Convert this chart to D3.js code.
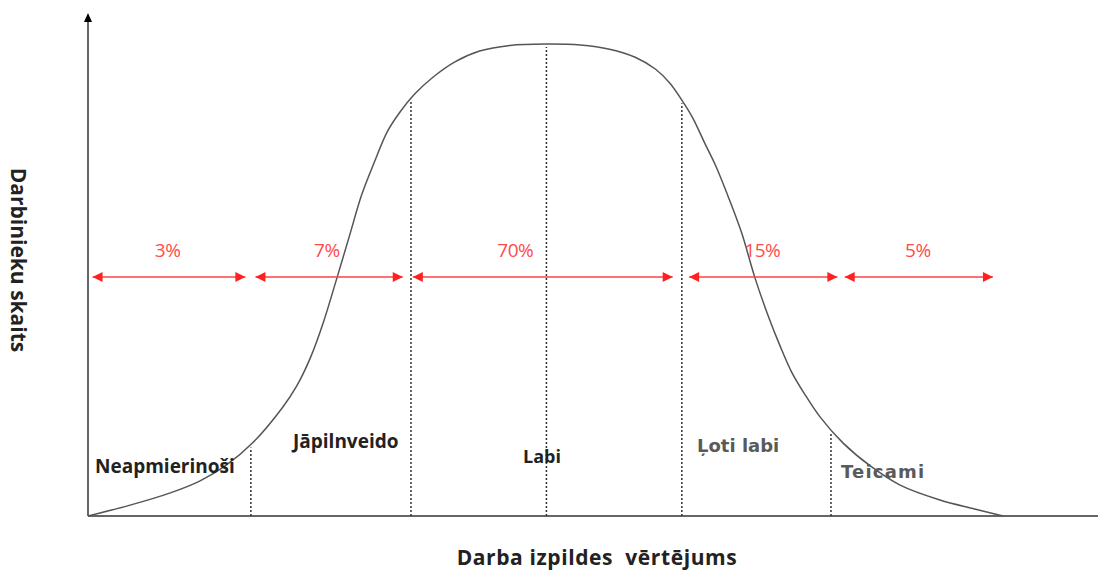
<!DOCTYPE html>
<html>
<head>
<meta charset="utf-8">
<script src="https://cdn.jsdelivr.net/npm/d3@7"></script>
<style>
  body { margin: 0; background: #fff; }
  svg { display: block; }
</style>
</head>
<body>
<script>
// curve of the distribution (x = performance score, y = employee count, both 0..100)
var curveX = [0, 4.6, 9.0, 12.2, 15.0, 18.0, 21.3, 22.8, 24.3, 25.7, 27.2, 28.6, 29.9, 31.3, 32.7, 34.1, 35.7, 37.6, 40.1, 42.8, 46.1, 50.1,
              53.8, 57.0, 59.8, 62.0, 63.6, 64.9, 66.1, 67.4, 68.6, 69.9, 71.4, 72.9, 74.3, 75.6, 76.9, 78.4, 80.0, 82.5, 85.5, 88.7, 93.1, 96.9, 100];
var curveY = [0, 2.3, 4.9, 7.4, 10.6, 15.5, 23.1, 27.5, 33.5, 40.9, 50.4, 59.5, 68.0, 75.0, 81.4, 85.6, 89.4, 92.8, 96.2, 98.5, 99.7, 100,
              99.8, 98.9, 97.2, 94.7, 91.7, 88.1, 84.3, 79.0, 74.2, 68.0, 60.2, 50.4, 42.6, 36.2, 30.5, 25.6, 21.0, 15.5, 10.6, 6.6, 3.4, 1.5, 0];

// boundaries between rating groups
var bounds = [17.8, 35.3, 50.1, 64.9, 81.2];

// rating groups and their shares
var categories = ["Neapmierinoši", "Jāpilnveido", "Labi", "Ļoti labi", "Teicami"];
var shares = ["3%", "7%", "70%", "15%", "5%"];
var arrowFrom = [0.5, 18.3, 35.5, 65.7, 82.7];
var arrowTo = [17.2, 34.4, 63.9, 81.9, 98.9];

var W = 1098, H = 573;

var svg = d3.select("body").append("svg")
	.attr("width", W)
	.attr("height", H);

var x = d3.scaleLinear().domain([0, 100]).range([88, 1003]);
var y = d3.scaleLinear().domain([0, 100]).range([516, 44]);

// linear lookup of the curve height at some x
var curveAt = function(v)
{
	var i = d3.bisectLeft(curveX, v);
	if (i <= 0) { return curveY[0]; }
	if (i >= curveX.length) { return curveY[curveY.length - 1]; }
	var t = (v - curveX[i-1]) / (curveX[i] - curveX[i-1]);
	return curveY[i-1] + t * (curveY[i] - curveY[i-1]);
};

var defs = svg.append("defs");
defs.append("marker")
	.attr("id", "redHead")
	.attr("viewBox", "0 0 10 10")
	.attr("refX", 10).attr("refY", 5)
	.attr("markerWidth", 12).attr("markerHeight", 10)
	.attr("markerUnits", "userSpaceOnUse")
	.attr("orient", "auto-start-reverse")
	.append("path")
	.attr("d", "M0,0L10,5L0,10Z")
	.attr("fill", "#ff2020");

// axes
var x0 = x(0), y0 = y(0);
svg.append("line")
	.attr("x1", x0).attr("y1", y0)
	.attr("x2", W).attr("y2", y0)
	.attr("stroke", "#666").attr("stroke-width", 2);
svg.append("line")
	.attr("x1", x0).attr("y1", y0)
	.attr("x2", x0).attr("y2", 22)
	.attr("stroke", "#666").attr("stroke-width", 2);
svg.append("path")
	.attr("d", "M" + x0 + ",13L" + (x0 + 4) + ",22L" + (x0 - 4) + ",22Z")
	.attr("fill", "#000");

// dashed group boundaries
svg.append("g").selectAll("line")
	.data(bounds)
	.enter().append("line")
	.attr("x1", function(d) { return x(d); })
	.attr("x2", function(d) { return x(d); })
	.attr("y1", y0)
	.attr("y2", function(d) { return y(curveAt(d)) + 3; })
	.attr("stroke", "#333")
	.attr("stroke-width", 1.5)
	.attr("stroke-dasharray", "2,2");

// the curve
var line = d3.line()
	.x(function(d) { return x(d); })
	.y(function(d, i) { return y(curveY[i]); })
	.curve(d3.curveCatmullRom.alpha(0.5));
svg.append("path")
	.attr("d", line(curveX))
	.attr("fill", "none")
	.attr("stroke", "#555")
	.attr("stroke-width", 1.5);

// red arrows with shares
var arrowY = 277;
svg.append("g").selectAll("line")
	.data(shares)
	.enter().append("line")
	.attr("x1", function(d, i) { return x(arrowFrom[i]); })
	.attr("x2", function(d, i) { return x(arrowTo[i]); })
	.attr("y1", arrowY).attr("y2", arrowY)
	.attr("stroke", "#ff4040")
	.attr("stroke-width", 1.5)
	.attr("marker-start", "url(#redHead)")
	.attr("marker-end", "url(#redHead)");

var shareX = [8.7, 26.1, 46.7, 73.7, 90.7];
svg.append("g").selectAll("text")
	.data(shares)
	.enter().append("text")
	.text(function(d) { return d; })
	.attr("x", function(d, i) { return x(shareX[i]); })
	.attr("y", 257)
	.attr("text-anchor", "middle")
	.style("font-family", "'Open Sans', sans-serif")
	.style("font-size", "19px")
	.style("letter-spacing", "-0.5px")
	.style("fill", "#ff4a4a");

// group names
var labelPos = [[95, 473], [293, 448], [523, 463], [697, 452], [841, 478]];
var labelFont = ["'Open Sans'", "'Open Sans'", "'Open Sans'", "'DejaVu Sans'", "'DejaVu Sans'"];
var labelSize = [19, 19, 18, 18, 18];
var labelSpacing = [0, 0, 0, 0, 1.2];
var labelColor = ["#222", "#222", "#222", "#5a5a5a", "#5a5a5a"];
svg.append("g").selectAll("text")
	.data(categories)
	.enter().append("text")
	.text(function(d) { return d; })
	.attr("x", function(d, i) { return labelPos[i][0]; })
	.attr("y", function(d, i) { return labelPos[i][1]; })
	.style("font-family", function(d, i) { return labelFont[i] + ", sans-serif"; })
	.style("font-weight", "bold")
	.style("font-size", function(d, i) { return labelSize[i] + "px"; })
	.style("letter-spacing", function(d, i) { return labelSpacing[i] + "px"; })
	.style("fill", function(d, i) { return labelColor[i]; });

// axis titles
svg.append("text")
	.text("Darbinieku skaits")
	.attr("transform", "translate(11,260) rotate(90)")
	.attr("text-anchor", "middle")
	.style("font-family", "'Open Sans', sans-serif")
	.style("font-weight", "bold")
	.style("font-size", "21px")
	.style("fill", "#222");

svg.append("text")
	.text("Darba izpildes  vērtējums")
	.attr("x", 597).attr("y", 565)
	.attr("text-anchor", "middle")
	.attr("xml:space", "preserve")
	.style("white-space", "pre")
	.style("font-family", "'Open Sans', sans-serif")
	.style("font-weight", "bold")
	.style("font-size", "21px")
	.style("letter-spacing", "0.6px")
	.style("fill", "#222");
</script>
</body>
</html>
